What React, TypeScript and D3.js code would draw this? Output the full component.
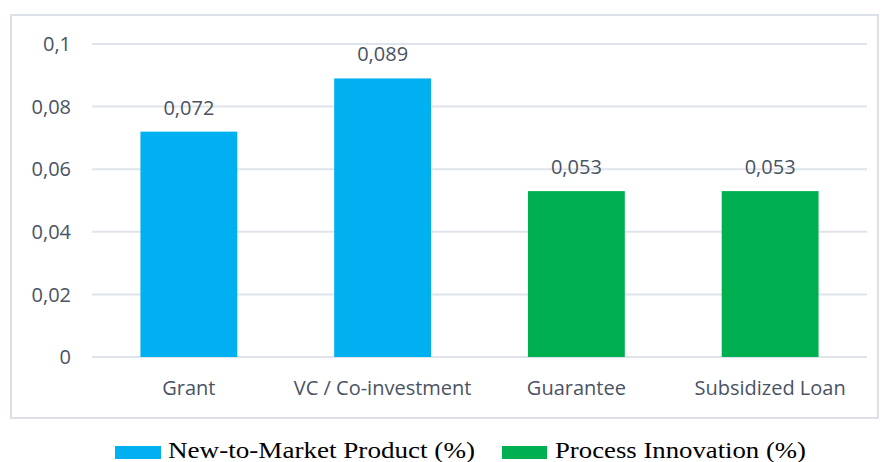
import React from "react";
import * as d3 from "d3";

const categories = ["Grant", "VC / Co-investment", "Guarantee", "Subsidized Loan"];
const values = [0.072, 0.089, 0.053, 0.053];
const seriesOf = [0, 0, 1, 1];
const seriesNames = ["New-to-Market Product (%)", "Process Innovation (%)"];
const seriesColors = ["#00B0F0", "#00B050"];
const yTicks = [0, 0.02, 0.04, 0.06, 0.08, 0.1];

const W = 884, H = 462;
const fmt = (v: number) => (v === 0 ? "0" : String(+v.toFixed(3)).replace(".", ","));

export default function App() {
  const x = d3.scaleBand<string>().domain(categories).range([92, 867]).paddingInner(0.5).paddingOuter(0.25);
  const y = d3.scaleLinear().domain([0, 0.1]).range([357, 44]);
  const font = "'Open Sans', 'Noto Sans', sans-serif";
  const textColor = "#4a5363";
  const fs = 20;
  return (
    <svg width={W} height={H} style={{ position: "absolute", left: 0, top: 0 }}>
      <rect x={0} y={0} width={W} height={H} fill="#fff" />
      <rect x={11} y={15} width={867} height={403} fill="none" stroke="#dde1e7" strokeWidth={2} />
      {yTicks.map((t) => (
        <g key={t}>
          <line x1={92} x2={867} y1={y(t)} y2={y(t)} stroke="#dfe3ea" strokeWidth={2} />
          <text x={71} y={y(t)} dy="0.36em" textAnchor="end" fontFamily={font} fontSize={fs} fill={textColor}>
            {fmt(t)}
          </text>
        </g>
      ))}
      {categories.map((c, i) => (
        <g key={c}>
          <rect x={x(c)} y={y(values[i])} width={x.bandwidth()} height={y(0) - y(values[i])} fill={seriesColors[seriesOf[i]]} />
          <text x={x(c)! + x.bandwidth() / 2} y={y(values[i]) - 17} textAnchor="middle" fontFamily={font} fontSize={fs} fill={textColor}>
            {fmt(values[i])}
          </text>
          <text x={x(c)! + x.bandwidth() / 2} y={395} textAnchor="middle" fontFamily={font} fontSize={fs} fill={textColor}>
            {c}
          </text>
        </g>
      ))}
      <g fontFamily="'Liberation Serif', 'Times New Roman', serif" fontSize={24} fill="#000">
        <rect x={115} y={446} width={46} height={13} fill={seriesColors[0]} />
        <text x={168} y={458} textLength={307} lengthAdjust="spacingAndGlyphs">{seriesNames[0]}</text>
        <rect x={502} y={446} width={45} height={13} fill={seriesColors[1]} />
        <text x={555} y={458} textLength={251} lengthAdjust="spacingAndGlyphs">{seriesNames[1]}</text>
      </g>
    </svg>
  );
}
